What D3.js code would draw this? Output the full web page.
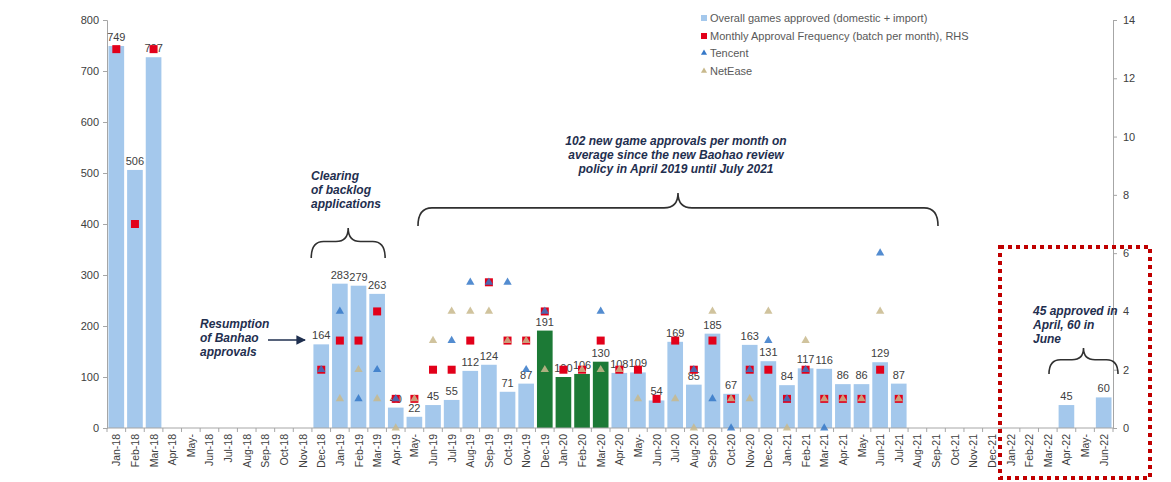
<!DOCTYPE html>
<html>
<head>
<meta charset="utf-8">
<script src="https://cdn.jsdelivr.net/npm/d3@7"></script>
<style>
  body { margin: 0; background: #fff; }
  text { font-family: "Liberation Sans", Arial, sans-serif; }
</style>
</head>
<body>
<div id="chart"></div>
<script>
// months on the x axis (May labels are cut to "May-" in the source)
var months = ["Jan-18","Feb-18","Mar-18","Apr-18","May-","Jun-18","Jul-18","Aug-18","Sep-18","Oct-18","Nov-18","Dec-18",
              "Jan-19","Feb-19","Mar-19","Apr-19","May-","Jun-19","Jul-19","Aug-19","Sep-19","Oct-19","Nov-19","Dec-19",
              "Jan-20","Feb-20","Mar-20","Apr-20","May-","Jun-20","Jul-20","Aug-20","Sep-20","Oct-20","Nov-20","Dec-20",
              "Jan-21","Feb-21","Mar-21","Apr-21","May-","Jun-21","Jul-21","Aug-21","Sep-21","Oct-21","Nov-21","Dec-21",
              "Jan-22","Feb-22","Mar-22","Apr-22","May-","Jun-22"];

// overall games approved (LHS)
var approved = [749,506,727,null,null,null,null,null,null,null,null,164,
                283,279,263,40,22,45,55,112,124,71,87,191,
                100,106,130,108,109,54,169,85,185,67,163,131,
                84,117,116,86,86,129,87,null,null,null,null,null,
                null,null,null,45,null,60];

// bars drawn in green (Dec-19 to Mar-20)
var greenIdx = [23,24,25,26];

// monthly approval frequency, batches per month (RHS)
var frequency = [13,7,13,null,null,null,null,null,null,null,null,2,
                 3,3,4,1,1,2,2,3,5,3,3,4,
                 2,2,3,2,2,1,3,2,3,1,2,2,
                 1,2,1,1,1,2,1,null,null,null,null,null,
                 null,null,null,null,null,null];

// Tencent approvals (RHS)
var tencent = [null,null,null,null,null,null,null,null,null,null,null,2,
               4,1,2,1,null,null,3,5,5,5,2,4,
               null,null,4,null,null,null,null,2,1,0,2,3,
               1,2,0,null,null,6,null,null,null,null,null,null,
               null,null,null,null,null,null];

// NetEase approvals (RHS)
var netease = [null,null,null,null,null,null,null,null,null,null,null,null,
               1,2,1,0,1,3,4,4,4,3,3,2,
               null,2,2,2,1,null,1,0,4,1,1,4,
               0,3,1,1,1,4,1,null,null,null,null,null,
               null,null,null,null,null,null];

var leftTicks = [0,100,200,300,400,500,600,700,800];
var rightTicks = [0,2,4,6,8,10,12,14];

var legendLabels = ["Overall games approved (domestic + import)",
                    "Monthly Approval Frequency (batch per month), RHS",
                    "Tencent",
                    "NetEase"];

var W = 1171, H = 482;
var mLeft = 107, mRight = 1113, mTop = 20, mBottom = 428;

var svg = d3.select("#chart").append("svg")
    .attr("width", W)
    .attr("height", H);

var x = d3.scaleBand().domain(d3.range(months.length)).range([mLeft, mRight]).paddingInner(0.16).paddingOuter(0.08);
var yL = d3.scaleLinear().domain([0, 800]).range([mBottom, mTop]);
var yR = d3.scaleLinear().domain([0, 14]).range([mBottom, mTop]);

var axisColor = "#a6a6a6", textColor = "#404040", navy = "#1f2f4f";
var blue = "#a4c8ec", green = "#1c7a36", red = "#e2001a", tcBlue = "#3578c8", neTan = "#c8b98c";

// left axis
var gL = svg.append("g").attr("transform", "translate(" + mLeft + ",0)")
    .call(d3.axisLeft(yL).tickValues(leftTicks).tickSize(4).tickPadding(4));
// right axis
var gR = svg.append("g").attr("transform", "translate(" + mRight + ",0)")
    .call(d3.axisRight(yR).tickValues(rightTicks).tickSize(4).tickPadding(6));
[gL, gR].forEach(function(g) {
    g.select(".domain").attr("stroke", axisColor);
    g.selectAll(".tick line").attr("stroke", axisColor);
    g.selectAll("text").attr("fill", textColor).style("font-size", "11px")
        .style("font-family", "'Liberation Sans', Arial, sans-serif");
});

var cx = function(i) { return x(i) + x.bandwidth() / 2; };
var idx = d3.range(months.length);

// bars
svg.append("g").selectAll("rect")
    .data(idx.filter(function(i) { return approved[i] != null; }))
    .enter()
    .append("rect")
    .attr("x", function(i) { return x(i); })
    .attr("y", function(i) { return yL(approved[i]); })
    .attr("width", x.bandwidth())
    .attr("height", function(i) { return yL(0) - yL(approved[i]); })
    .style("fill", function(i) { return greenIdx.indexOf(i) >= 0 ? green : blue; });

// bottom axis
var gB = svg.append("g").attr("transform", "translate(0," + mBottom + ")");
gB.append("line").attr("x1", mLeft).attr("x2", mRight).attr("stroke", axisColor);
var edge = function(i) {
    return i < months.length ? x(i) - x.step() * x.paddingInner() / 2
                             : x(i - 1) + x.bandwidth() + x.step() * x.paddingInner() / 2;
};
gB.selectAll("line.t")
    .data(d3.range(months.length + 1))
    .enter()
    .append("line")
    .attr("class", "t")
    .attr("x1", edge).attr("x2", edge)
    .attr("y1", 0).attr("y2", 4)
    .attr("stroke", axisColor);
gB.selectAll("text.m")
    .data(months)
    .enter()
    .append("text")
    .attr("class", "m")
    .attr("transform", function(d, i) { return "translate(" + (cx(i) + 4) + ",6) rotate(-90)"; })
    .attr("text-anchor", "end")
    .style("font-size", "10.5px")
    .attr("fill", textColor)
    .text(function(d) { return d; });

// bar value labels
svg.append("g").selectAll("text")
    .data(idx.filter(function(i) { return approved[i] != null; }))
    .enter()
    .append("text")
    .attr("x", function(i) { return cx(i); })
    .attr("y", function(i) { return yL(approved[i]) - 5; })
    .attr("text-anchor", "middle")
    .style("font-size", "11px")
    .attr("fill", textColor)
    .text(function(i) { return approved[i]; });

// markers: squares first, triangles on top so overlaps mix colours
var tri = d3.symbol().type(d3.symbolTriangle).size(30);

svg.append("g").selectAll("rect")
    .data(idx.filter(function(i) { return frequency[i] != null; }))
    .enter()
    .append("rect")
    .attr("x", function(i) { return cx(i) - 4; })
    .attr("y", function(i) { return yR(frequency[i]) - 4; })
    .attr("width", 8).attr("height", 8)
    .style("fill", red);

svg.append("g").selectAll("path")
    .data(idx.filter(function(i) { return tencent[i] != null; }))
    .enter()
    .append("path")
    .attr("d", tri)
    .attr("transform", function(i) { return "translate(" + cx(i) + "," + yR(tencent[i]) + ")"; })
    .style("fill", tcBlue).style("opacity", 0.85);

svg.append("g").selectAll("path")
    .data(idx.filter(function(i) { return netease[i] != null; }))
    .enter()
    .append("path")
    .attr("d", tri)
    .attr("transform", function(i) { return "translate(" + cx(i) + "," + yR(netease[i]) + ")"; })
    .style("fill", neTan).style("opacity", 0.85);

// legend
var lg = svg.append("g").attr("transform", "translate(704,0)");
var legY = [18, 36, 53, 71];
lg.append("rect").attr("x", -3).attr("y", legY[0] - 3).attr("width", 6).attr("height", 6).style("fill", blue);
lg.append("rect").attr("x", -3).attr("y", legY[1] - 3).attr("width", 6).attr("height", 6).style("fill", red);
lg.append("path").attr("d", d3.symbol().type(d3.symbolTriangle).size(16)).attr("transform", "translate(0," + legY[2] + ")").style("fill", tcBlue);
lg.append("path").attr("d", d3.symbol().type(d3.symbolTriangle).size(16)).attr("transform", "translate(0," + legY[3] + ")").style("fill", neTan);
lg.selectAll("text.l")
    .data(legendLabels)
    .enter()
    .append("text")
    .attr("x", 6)
    .attr("y", function(d, i) { return legY[i] + 4; })
    .style("font-size", "11px")
    .attr("fill", "#595959")
    .text(function(d) { return d; });

// annotations
function note(lines, x0, y0, anchor, dy) {
    var t = svg.append("text")
        .attr("x", x0).attr("y", y0)
        .attr("text-anchor", anchor || "start")
        .style("font-size", "12px")
        .style("font-weight", "bold")
        .style("font-style", "italic")
        .attr("fill", navy);
    lines.forEach(function(s, k) {
        t.append("tspan").attr("x", x0).attr("dy", k ? (dy || 14) : 0).text(s);
    });
}
// horizontal curly brace, tip up
function brace(x1, x2, yTip, yEnd) {
    var xm = (x1 + x2) / 2, yMid = yTip + (yEnd - yTip) * 0.45, r = Math.min(14, (x2 - x1) / 6);
    var p = d3.path();
    p.moveTo(x1, yEnd);
    p.quadraticCurveTo(x1, yMid, x1 + r, yMid);
    p.lineTo(xm - r, yMid);
    p.quadraticCurveTo(xm, yMid, xm, yTip);
    p.quadraticCurveTo(xm, yMid, xm + r, yMid);
    p.lineTo(x2 - r, yMid);
    p.quadraticCurveTo(x2, yMid, x2, yEnd);
    svg.append("path").attr("d", p.toString())
        .attr("fill", "none").attr("stroke", "#303030").attr("stroke-width", 1.6);
}

note(["Clearing", "of backlog", "applications"], 311, 180, "start", 14);
brace(cx(11) - 10, cx(14) + 8, 228, 258);

note(["Resumption", "of Banhao", "approvals"], 200, 328, "start", 14);
svg.append("defs").append("marker")
    .attr("id", "arr").attr("viewBox", "0 0 10 10").attr("refX", 9).attr("refY", 5)
    .attr("markerWidth", 6).attr("markerHeight", 6).attr("orient", "auto")
    .append("path").attr("d", "M0,0L10,5L0,10z").attr("fill", navy);
svg.append("line").attr("x1", 268).attr("x2", 305).attr("y1", 340).attr("y2", 340)
    .attr("stroke", navy).attr("stroke-width", 1.6).attr("marker-end", "url(#arr)");

note(["102 new game approvals per month on", "average since the new Baohao review", "policy in April 2019 until July 2021"], 676, 145, "middle", 14);
brace(418, 938, 193, 226);

note(["45 approved in", "April, 60 in", "June"], 1033, 315, "start", 14);
brace(1049, 1118, 348, 374);

// red dotted box
svg.append("rect")
    .attr("x", 1000).attr("y", 247).attr("width", 150).attr("height", 231)
    .attr("fill", "none").attr("stroke", "#c00000").attr("stroke-width", 4)
    .attr("stroke-dasharray", "4,4");
</script>
</body>
</html>
